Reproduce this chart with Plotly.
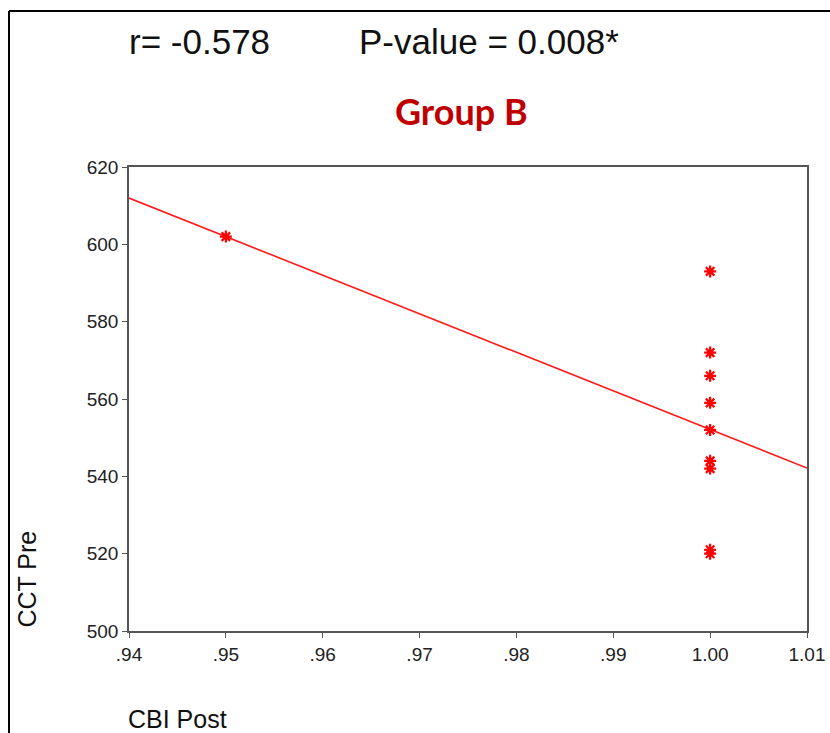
import numpy as np
import plotly.graph_objects as go

# Data
cbi_post = [0.95, 1.00, 1.00, 1.00, 1.00, 1.00, 1.00, 1.00, 1.00, 1.00]
cct_pre = [602, 593, 572, 566, 559, 552, 544, 542, 521, 520]
x_ticks = [0.94, 0.95, 0.96, 0.97, 0.98, 0.99, 1.00, 1.01]
x_tick_labels = [".94", ".95", ".96", ".97", ".98", ".99", "1.00", "1.01"]
y_ticks = [500, 520, 540, 560, 580, 600, 620]
x_range = [0.94, 1.01]
y_range = [500, 620]

slope, intercept = np.polyfit(cbi_post, cct_pre, 1)
fit_x = np.array(x_range)
fit_y = slope * fit_x + intercept

# body margin is removed by post_script, so the figure fills the window
W, H = 830, 733
PL, PR, PT, PB = 129, 807, 167, 631  # plot area in window pixels
ML, MT = PL, PT
MR, MB = W - PR, H - PB
pw, ph = PR - PL, PB - PT


def px(xw):
    return (xw - PL) / pw


def py(yw):
    return (PB - yw) / ph


fig = go.Figure()
fig.add_trace(go.Scatter(x=fit_x, y=fit_y, mode="lines",
                         line=dict(color="#ff1a1a", width=1.6),
                         hoverinfo="skip", showlegend=False))
fig.add_trace(go.Scatter(x=cbi_post, y=cct_pre, mode="markers",
                         marker=dict(symbol="asterisk-open", size=10, color="#ff0000",
                                     line=dict(color="#ff0000", width=2.2)),
                         showlegend=False))

axis_common = dict(showline=True, mirror=True, linecolor="#555555", linewidth=1.5,
                   ticks="outside", ticklen=5, tickcolor="#555555", tickwidth=1.2,
                   showgrid=False, zeroline=False,
                   tickfont=dict(family="Liberation Sans, Arial, sans-serif", size=19, color="#222222"))

fig.update_xaxes(range=x_range, tickvals=x_ticks, ticktext=x_tick_labels, **axis_common)
fig.update_yaxes(range=y_range, tickvals=y_ticks, **axis_common)

txt_font = dict(family="Liberation Sans, Arial, sans-serif", color="#111111")
fig.update_layout(
    width=W, height=H,
    margin=dict(l=ML, r=MR, t=MT, b=MB, autoexpand=False),
    paper_bgcolor="white", plot_bgcolor="white",
    annotations=[
        dict(text="r= -0.578", x=px(127), y=py(41), xref="paper", yref="paper",
             xanchor="left", yanchor="middle", showarrow=False,
             font=dict(size=35, **txt_font)),
        dict(text="P-value = 0.008*", x=px(357), y=py(41), xref="paper", yref="paper",
             xanchor="left", yanchor="middle", showarrow=False,
             font=dict(size=35, **txt_font)),
        dict(text="<b>Group B</b>", x=px(461), y=py(111), xref="paper", yref="paper",
             xanchor="center", yanchor="middle", showarrow=False,
             font=dict(family="Lato, Open Sans, sans-serif", size=36, color="#C00000")),
        dict(text="CCT Pre", x=px(26), y=py(630), xref="paper", yref="paper",
             xanchor="center", yanchor="bottom", textangle=-90, showarrow=False,
             font=dict(size=25, **txt_font)),
        dict(text="CBI Post", x=px(126), y=py(719), xref="paper", yref="paper",
             xanchor="left", yanchor="middle", showarrow=False,
             font=dict(size=25, **txt_font)),
    ],
    shapes=[
        dict(type="line", xref="paper", yref="paper", x0=px(9), x1=px(9),
             y0=py(11), y1=py(H + 5), line=dict(color="black", width=2)),
        dict(type="line", xref="paper", yref="paper", x0=px(9), x1=px(W + 5),
             y0=py(11), y1=py(11), line=dict(color="black", width=2)),
    ],
)

fig.write_html(
    "out.html",
    config={"displayModeBar": False},
    post_script="document.body.style.margin='0';document.body.style.overflow='hidden';",
)
